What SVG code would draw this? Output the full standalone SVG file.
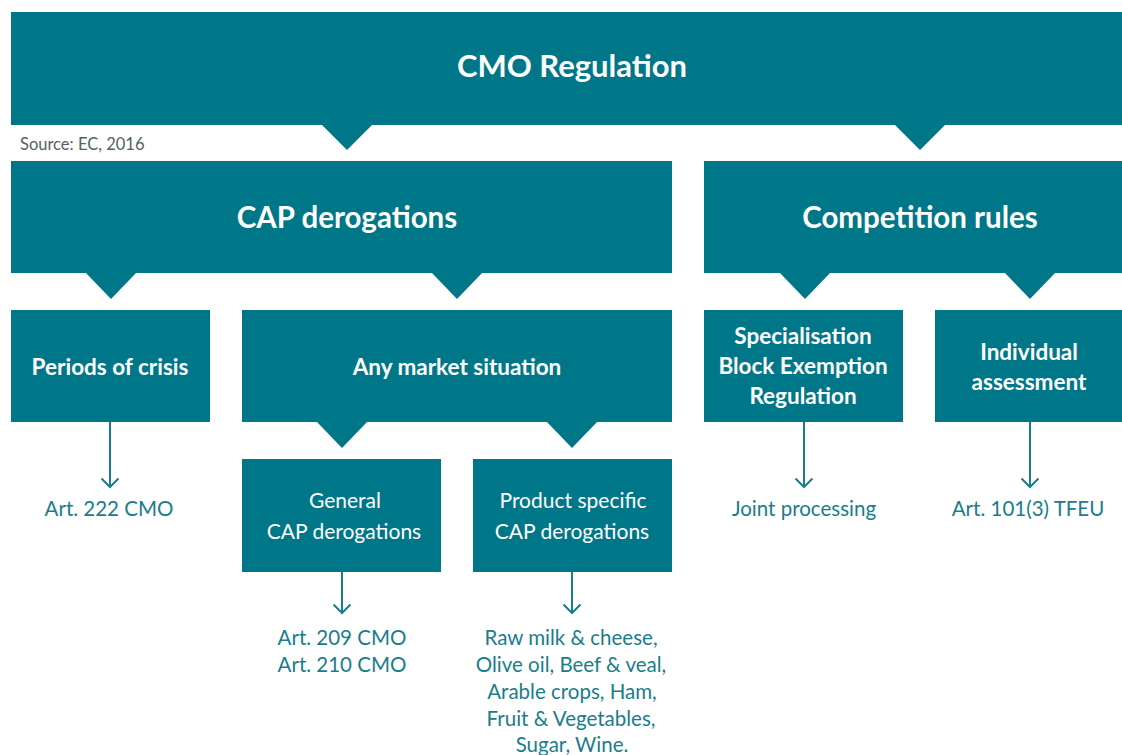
<svg xmlns="http://www.w3.org/2000/svg" width="1122" height="755" viewBox="0 0 1122 755">
<style>
.box{fill:#007789}
.tri{fill:#007789}
.t{font-family:Lato,"Liberation Sans",sans-serif;fill:#ffffff;text-anchor:middle}
.b{font-weight:bold}
.h1{font-size:31px}
.h2{font-size:29.5px}
.h3{font-size:22.5px}
.h4{font-size:21px}
.lab{font-family:Lato,"Liberation Sans",sans-serif;fill:#1a7d8c;font-size:20.5px;text-anchor:middle}
.src{font-family:Lato,"Liberation Sans",sans-serif;fill:#555f63;font-size:16.5px}
.ln{stroke:#1a7d8c;stroke-width:2;fill:none}
</style>
<rect width="1122" height="755" fill="#ffffff"/>
<g id="cmo">
<rect class="box" x="11" y="12" width="1111" height="113"/>
<polygon class="tri" points="321,124 373,124 347,150"/>
<polygon class="tri" points="894,124 946,124 920,150"/>
<text class="t b h1" x="572" y="77">CMO Regulation</text>
</g>
<text class="src" x="20" y="150">Source: EC, 2016</text>
<g id="cap">
<rect class="box" x="11" y="161" width="661" height="112"/>
<polygon class="tri" points="85,272 137,272 111,299"/>
<polygon class="tri" points="431,272 483,272 457,299"/>
<text class="t b h2" x="347" y="228">CAP derogations</text>
</g>
<g id="competition">
<rect class="box" x="704" y="161" width="418" height="112"/>
<polygon class="tri" points="779,272 831,272 805,299"/>
<polygon class="tri" points="1004,272 1056,272 1030,299"/>
<text class="t b h2" x="920" y="228">Competition rules</text>
</g>
<g id="crisis">
<rect class="box" x="11" y="310" width="199" height="112"/>
<text class="t b h3" x="110" y="375">Periods of crisis</text>
</g>
<g id="market">
<rect class="box" x="242" y="310" width="430" height="112"/>
<polygon class="tri" points="316,421 368,421 342,448"/>
<polygon class="tri" points="546,421 598,421 572,448"/>
<text class="t b h3" x="457" y="375">Any market situation</text>
</g>
<g id="sber">
<rect class="box" x="704" y="310" width="199" height="112"/>
<text class="t b h3" x="803" y="344">Specialisation</text>
<text class="t b h3" x="803" y="374">Block Exemption</text>
<text class="t b h3" x="803" y="404">Regulation</text>
</g>
<g id="individual">
<rect class="box" x="935" y="310" width="187" height="112"/>
<text class="t b h3" x="1029" y="360">Individual</text>
<text class="t b h3" x="1029" y="390">assessment</text>
</g>
<g id="general">
<rect class="box" x="242" y="459" width="199" height="113"/>
<text class="t h4" x="345" y="508">General</text>
<text class="t h4" x="344" y="539">CAP derogations</text>
</g>
<g id="product">
<rect class="box" x="473" y="459" width="199" height="113"/>
<text class="t h4" x="573" y="508">Product specific</text>
<text class="t h4" x="572" y="539">CAP derogations</text>
</g>
<g id="connectors">
<path class="ln" d="M110,422 V487 M101.5,478.5 L110,487 L118.5,478.5"/>
<path class="ln" d="M804,422 V487 M795.5,478.5 L804,487 L812.5,478.5"/>
<path class="ln" d="M1030,422 V487 M1021.5,478.5 L1030,487 L1038.5,478.5"/>
<path class="ln" d="M342,572 V613 M333.5,604.5 L342,613 L350.5,604.5"/>
<path class="ln" d="M572,572 V613 M563.5,604.5 L572,613 L580.5,604.5"/>
</g>
<g id="labels">
<text class="lab" x="109" y="516">Art. 222 CMO</text>
<text class="lab" x="804" y="516">Joint processing</text>
<text class="lab" x="1028" y="516">Art. 101(3) TFEU</text>
<text class="lab" x="342" y="645">Art. 209 CMO</text>
<text class="lab" x="342" y="672">Art. 210 CMO</text>
<text class="lab" x="571" y="645">Raw milk &amp; cheese,</text>
<text class="lab" x="571" y="672">Olive oil, Beef &amp; veal,</text>
<text class="lab" x="572" y="699">Arable crops, Ham,</text>
<text class="lab" x="571" y="726">Fruit &amp; Vegetables,</text>
<text class="lab" x="572" y="752">Sugar, Wine.</text>
</g>
</svg>
